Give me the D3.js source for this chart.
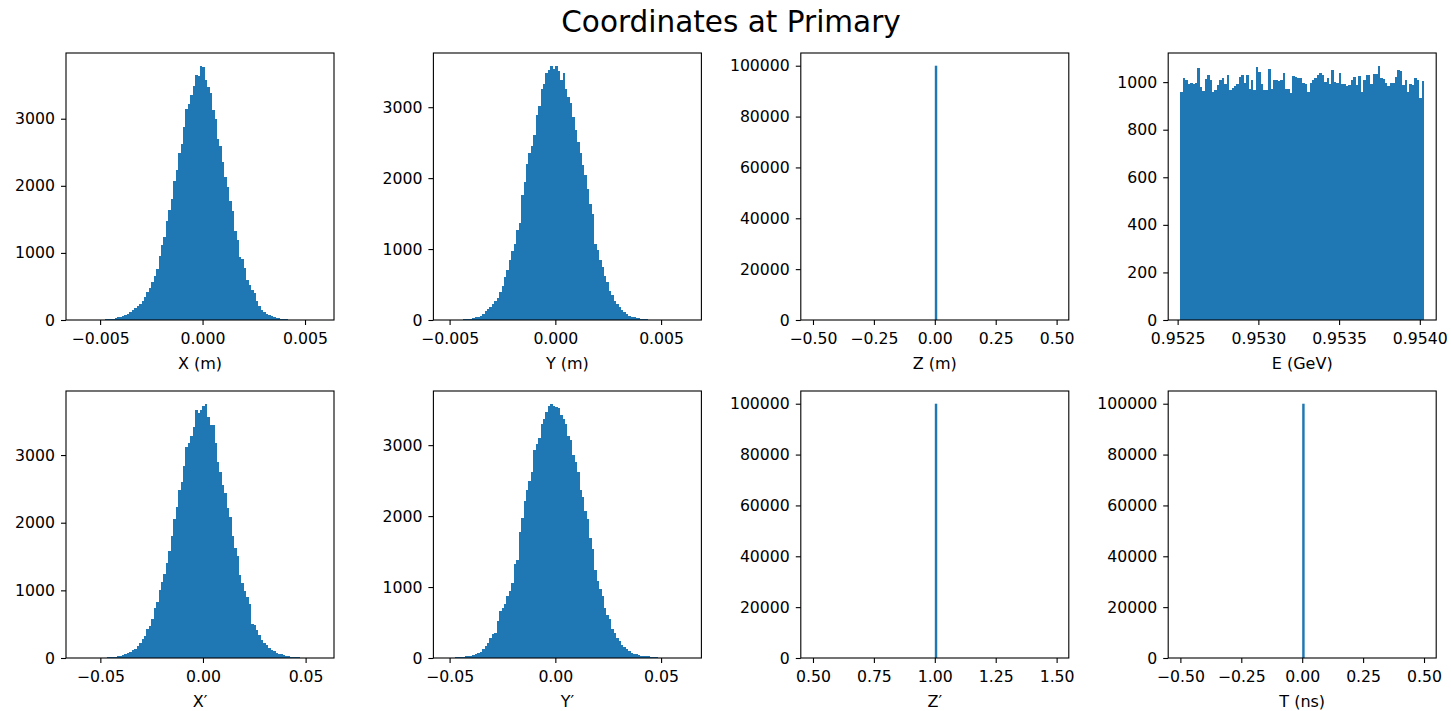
<!DOCTYPE html>
<html>
<head>
<meta charset="utf-8">
<script src="https://cdn.jsdelivr.net/npm/d3@7"></script>
<style>
  body { margin: 0; background: #fff; }
  svg { font-family: "DejaVu Sans", sans-serif; }
</style>
</head>
<body>
<svg id="chart" width="1451" height="711"></svg>
<script>
const title = "Coordinates at Primary"

// data range (first / last bin edge) and counts of the 100 bins
const xRange = [-0.00607, 0.00582]
const xCounts = [1, 0, 0, 0, 1, 0, 1, 2, 3, 4,
  6, 9, 12, 16, 20, 28, 38, 50, 62, 80,
  95, 125, 145, 175, 215, 240, 280, 350, 410, 475,
  560, 650, 760, 960, 1120, 1230, 1480, 1640, 1810, 2070,
  2230, 2490, 2620, 2880, 3150, 3220, 3350, 3490, 3650, 3630,
  3790, 3770, 3580, 3470, 3380, 3130, 3000, 2700, 2590, 2360,
  2130, 1980, 1770, 1620, 1320, 1190, 945, 905, 770, 590,
  525, 440, 405, 280, 215, 150, 125, 92, 70, 60,
  42, 36, 25, 18, 12, 9, 6, 4, 3, 2,
  1, 1, 0, 1, 0, 0, 0, 0, 0, 1]

const yRange = [-0.00519, 0.00633]
const yCounts = [1, 0, 0, 1, 1, 2, 5, 8, 10, 14,
  18, 25, 37, 45, 60, 90, 130, 150, 180, 225,
  270, 310, 390, 485, 600, 705, 840, 970, 1075, 1272,
  1367, 1758, 1947, 2197, 2358, 2452, 2608, 2890, 3018, 3254,
  3329, 3480, 3518, 3585, 3537, 3575, 3504, 3386, 3480, 3254,
  3141, 3056, 2867, 2678, 2513, 2358, 2183, 2042, 1853, 1641,
  1499, 1075, 990, 840, 744, 626, 532, 414, 358, 272,
  225, 178, 140, 107, 84, 60, 45, 37, 28, 22,
  16, 12, 9, 6, 4, 3, 2, 2, 1, 1,
  1, 0, 0, 0, 0, 0, 0, 0, 0, 1]

const eRange = [0.952517, 0.954026]
const eCounts = [958, 1017, 1010, 993, 998, 993, 996, 1058, 980, 963,
  1014, 1031, 1010, 958, 968, 986, 1007, 1017, 993, 1031,
  968, 975, 982, 993, 1022, 1029, 998, 1031, 972, 1007,
  968, 1064, 1043, 993, 965, 965, 1057, 972, 1010, 1007,
  1005, 1010, 1040, 972, 972, 954, 1024, 1022, 1019, 1019,
  996, 993, 958, 996, 1010, 1017, 1029, 1038, 1031, 1000,
  1019, 993, 1052, 1000, 996, 1040, 993, 993, 982, 986,
  1007, 1022, 986, 1024, 958, 1010, 1029, 1031, 991, 1036,
  1036, 1069, 1017, 1014, 996, 982, 996, 996, 1022, 1052,
  1047, 987, 1010, 958, 991, 987, 1017, 1010, 933, 1003]

const xpRange = [-0.0608, 0.0579]
const xpCounts = [2, 0, 0, 1, 0, 0, 1, 0, 1, 2,
  4, 5, 8, 10, 13, 18, 24, 32, 45, 58,
  75, 90, 120, 140, 180, 226, 275, 325, 423, 472,
  570, 742, 826, 1012, 1125, 1248, 1405, 1587, 1798, 2058,
  2225, 2485, 2608, 2843, 3123, 3172, 3285, 3418, 3673, 3629,
  3673, 3727, 3759, 3565, 3442, 3440, 3172, 2893, 2745, 2559,
  2436, 2215, 2078, 1798, 1626, 1503, 1233, 1110, 997, 899,
  791, 506, 487, 408, 339, 261, 226, 192, 153, 114,
  104, 80, 65, 52, 40, 34, 28, 20, 15, 11,
  8, 6, 4, 3, 3, 1, 2, 0, 1, 1]

const ypRange = [-0.0519, 0.0633]
const ypCounts = [2, 3, 4, 6, 8, 10, 14, 18, 22, 25,
  30, 38, 61, 75, 89, 122, 169, 216, 286, 333,
  356, 520, 660, 707, 763, 871, 950, 1058, 1325, 1386,
  1774, 1971, 2214, 2368, 2495, 2626, 2930, 3010, 3094, 3304,
  3365, 3468, 3552, 3584, 3552, 3538, 3524, 3431, 3375, 3304,
  3131, 3070, 2860, 2757, 2626, 2368, 2275, 2074, 1961, 1690,
  1540, 1245, 1082, 978, 871, 707, 613, 543, 403, 356,
  286, 239, 183, 155, 122, 98, 75, 61, 52, 42,
  35, 30, 26, 22, 18, 14, 10, 7, 5, 4,
  3, 2, 2, 1, 1, 2, 0, 1, 0, 1]

// single-valued columns: all 100000 entries land in one bin [x0, x1, count]
const zRange = [-0.5, 0.5]
const zBins = [[0.0, 0.01, 100000]]
const zpRange = [0.5, 1.5]
const zpBins = [[1.0, 1.01, 100000]]
const tRange = [-0.5, 0.5]
const tBins = [[0.0, 0.01, 100000]]

// tick values
const posTicks = [-0.005, 0, 0.005]
const slopeTicks = [-0.05, 0, 0.05]
const unitTicks = [-0.5, -0.25, 0, 0.25, 0.5]
const zpTicks = [0.5, 0.75, 1.0, 1.25, 1.5]
const eTicks = [0.9525, 0.953, 0.9535, 0.954]
const countTicks = [0, 1000, 2000, 3000]
const bigCountTicks = [0, 20000, 40000, 60000, 80000, 100000]
const eCountTicks = [0, 200, 400, 600, 800, 1000]

const fmt2 = d3.format(".2f"), fmt3 = d3.format(".3f"), fmt4 = d3.format(".4f"), fmtInt = d3.format("d")

const toBins = (range, counts) => {
  const w = (range[1] - range[0]) / counts.length
  return counts.map((n, i) => ({ x0: range[0] + i * w, x1: range[0] + (i + 1) * w, n: n }))
}
const spikeBins = list => list.map(b => ({ x0: b[0], x1: b[1], n: b[2] }))

const panels = [
  { label: "X (m)", range: xRange, bins: toBins(xRange, xCounts), xt: posTicks, xf: fmt3, yt: countTicks },
  { label: "Y (m)", range: yRange, bins: toBins(yRange, yCounts), xt: posTicks, xf: fmt3, yt: countTicks },
  { label: "Z (m)", range: zRange, bins: spikeBins(zBins), xt: unitTicks, xf: fmt2, yt: bigCountTicks, spike: true },
  { label: "E (GeV)", range: eRange, bins: toBins(eRange, eCounts), xt: eTicks, xf: fmt4, yt: eCountTicks },
  { label: "X\u2032", range: xpRange, bins: toBins(xpRange, xpCounts), xt: slopeTicks, xf: fmt2, yt: countTicks },
  { label: "Y\u2032", range: ypRange, bins: toBins(ypRange, ypCounts), xt: slopeTicks, xf: fmt2, yt: countTicks },
  { label: "Z\u2032", range: zpRange, bins: spikeBins(zpBins), xt: zpTicks, xf: fmt2, yt: bigCountTicks, spike: true },
  { label: "T (ns)", range: tRange, bins: spikeBins(tBins), xt: unitTicks, xf: fmt2, yt: bigCountTicks, spike: true }
]

// layout of the 2 x 4 grid
const panelW = 268, panelH = 267
const colX = [66, 433.4, 800.8, 1168.2]
const rowY = [53, 391]
const blue = "#1f77b4"
const tickFont = 15.7

const svg = d3.select("#chart")

svg.append("text")
  .attr("x", 731)
  .attr("y", 31.5)
  .attr("text-anchor", "middle")
  .attr("font-size", 29.5)
  .attr("fill", "#000")
  .text(title)

panels.forEach((p, k) => {
  const col = k % 4, row = Math.floor(k / 4)
  const g = svg.append("g").attr("transform", "translate(" + colX[col] + "," + rowY[row] + ")")

  // matplotlib style 5% margin around the data range
  const pad = (p.range[1] - p.range[0]) * 0.05
  const x = d3.scaleLinear().domain([p.range[0] - pad, p.range[1] + pad]).range([0, panelW])
  const y = d3.scaleLinear().domain([0, d3.max(p.bins, d => d.n) * 1.05]).range([panelH, 0])

  // dense histograms snap to pixels so neighbouring bars leave no seams,
  // the lone spikes stay antialiased like the original
  g.selectAll("rect.bar")
    .data(p.bins.filter(d => d.n > 0))
    .enter()
    .append("rect")
    .attr("class", "bar")
    .attr("x", d => x(d.x0))
    .attr("width", d => x(d.x1) - x(d.x0))
    .attr("y", d => y(d.n))
    .attr("height", d => panelH - y(d.n))
    .attr("fill", blue)
    .attr("shape-rendering", p.spike ? "auto" : "crispEdges")

  const xAxis = g.append("g")
    .attr("transform", "translate(0," + panelH + ")")
    .call(d3.axisBottom(x).tickValues(p.xt).tickFormat(p.xf).tickSize(5).tickPadding(8))
  const yAxis = g.append("g")
    .call(d3.axisLeft(y).tickValues(p.yt).tickFormat(fmtInt).tickSize(5).tickPadding(6))

  ;[xAxis, yAxis].forEach(a => {
    a.select(".domain").remove()
    a.attr("font-size", tickFont).attr("font-family", "DejaVu Sans")
    a.selectAll("line").attr("stroke", "#000").attr("stroke-width", 1.1)
    a.selectAll("text").attr("fill", "#000")
  })

  // frame
  g.append("rect")
    .attr("width", panelW)
    .attr("height", panelH)
    .attr("fill", "none")
    .attr("stroke", "#000")
    .attr("stroke-width", 1.1)

  g.append("text")
    .attr("x", panelW / 2)
    .attr("y", panelH + 49)
    .attr("text-anchor", "middle")
    .attr("font-size", 16)
    .attr("fill", "#000")
    .text(p.label)
})
</script>
</body>
</html>
